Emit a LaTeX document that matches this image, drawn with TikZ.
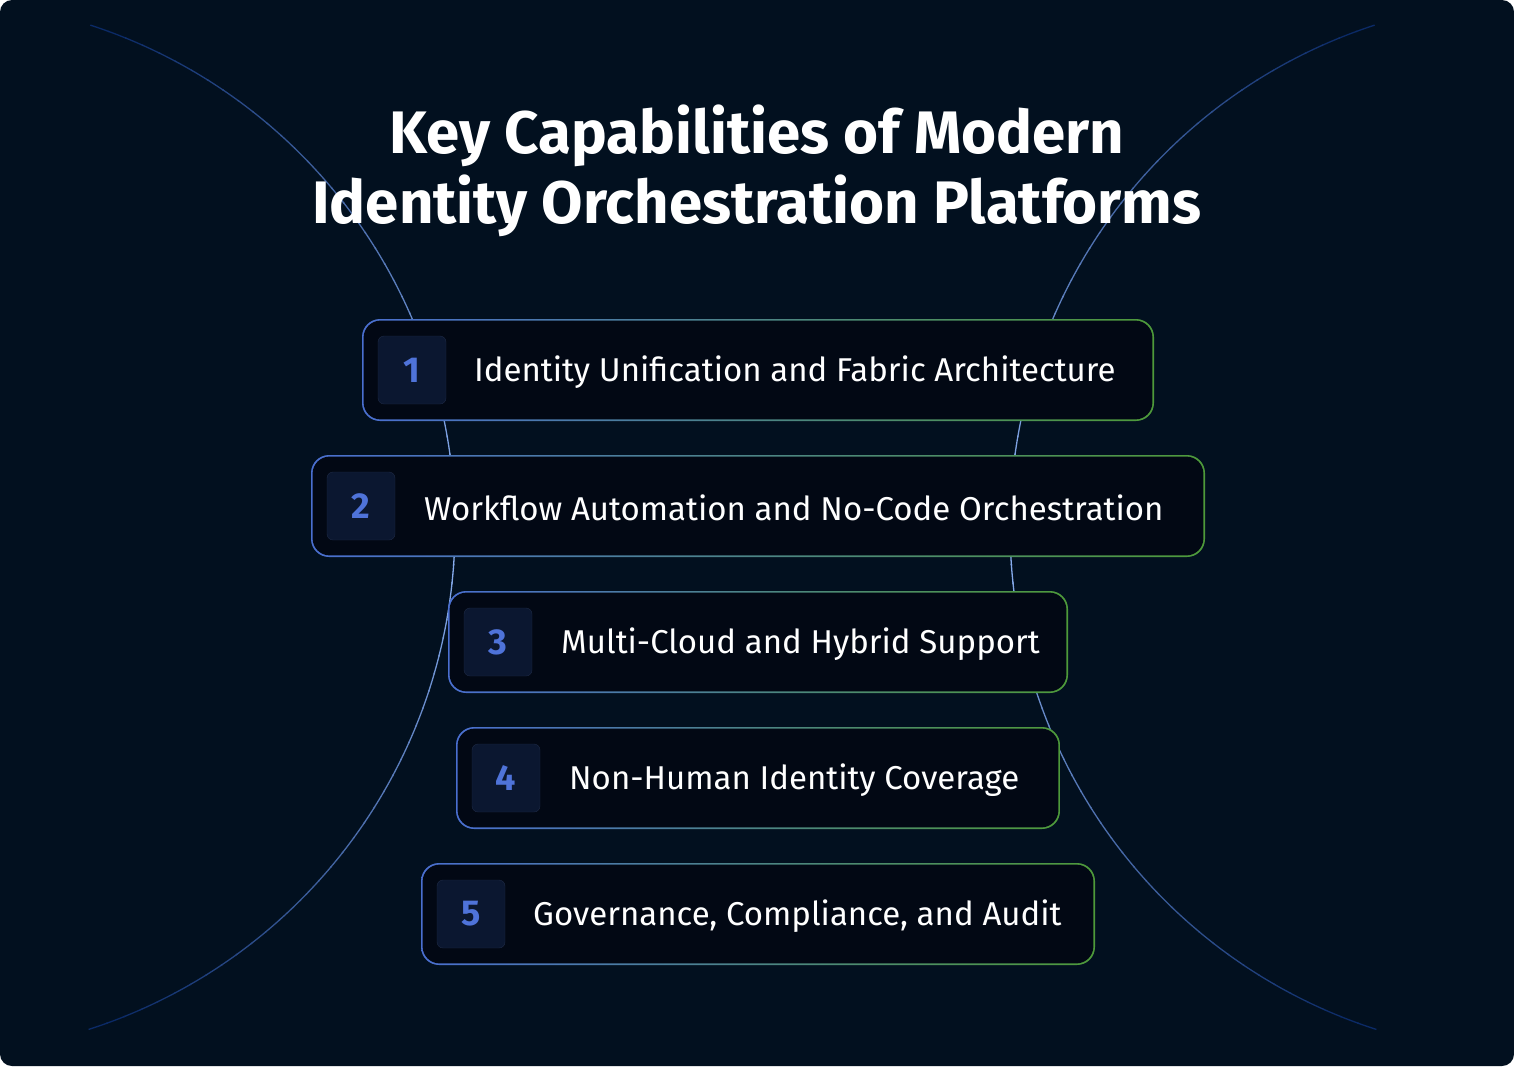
\documentclass[tikz,border=0pt]{standalone}
\usepackage{fontspec}
\setmainfont{Fira Sans}
\definecolor{bg}{HTML}{02101F}
\definecolor{boxfill}{HTML}{020814}
\definecolor{sqfill}{HTML}{0B1730}
\definecolor{sqline}{HTML}{1E2A45}
\definecolor{numc}{HTML}{4F73D9}
\definecolor{bordl}{HTML}{4A6FD0}
\definecolor{bordr}{HTML}{4E9A3A}
\definecolor{arcl}{HTML}{8FB4F5}
\definecolor{arcd}{HTML}{0B2A66}
\tikzset{
 capbox/.style={left color=bordl,right color=bordr},
 numtext/.style={text=numc,font=\fontsize{36}{40}\selectfont\bfseries},
 captext/.style={text=white,anchor=west,font=\fontsize{33}{40}\selectfont,inner sep=0pt},
 titletext/.style={text=white,font=\fontsize{60}{70}\selectfont\bfseries,align=center}
}
\newcommand{\capitem}[7]{%
 \shade[capbox,rounded corners=18pt] (#2,#4) rectangle (#3,#4+102);
 \fill[boxfill,rounded corners=17pt] (#2+1.6,#4+1.6) rectangle (#3-1.6,#4+100.4);
 \draw[sqline,fill=sqfill,rounded corners=6pt] (#2+16,#4+17) rectangle (#2+84,#4+85);
 \node[numtext] (#1n) at (#2+50,#4+51) {#5};
 \node[captext] (#1t) at (#6,#4+53) {#7};
}
\begin{document}
\begin{tikzpicture}[x=1pt,y=-1pt]
\useasboundingbox (0,0) rectangle (1514,1066);
\fill[bg,rounded corners=12pt] (0,0) rectangle (1514,1066);
\foreach \a in {-72,-70,...,70}{
 \pgfmathsetmacro{\m}{max(0,100-abs(\a+1)*1.45)}
 \draw[color=arcl!\m!arcd,line width=1.3pt] (-72.7,527)+(\a:527.7) arc[start angle=\a,end angle=\a+2.2,radius=527.7];
 \draw[color=arcl!\m!arcd,line width=1.3pt] (1537.7,527)+(180-\a:527.7) arc[start angle=180-\a,end angle=178-\a-0.2,radius=527.7];
}
\node[titletext] (title) at (757,171) {Key Capabilities of Modern\\Identity Orchestration Platforms};
\capitem{a}{362}{1154}{319}{1}{474}{Identity Unification and Fabric Architecture}
\capitem{b}{311}{1205}{455}{2}{424}{Workflow Automation and No-Code Orchestration}
\capitem{c}{448}{1068}{591}{3}{561}{Multi-Cloud and Hybrid Support}
\capitem{d}{456}{1060}{727}{4}{569}{Non-Human Identity Coverage}
\capitem{e}{421}{1095}{863}{5}{533}{Governance, Compliance, and Audit}
\end{tikzpicture}
\end{document}
